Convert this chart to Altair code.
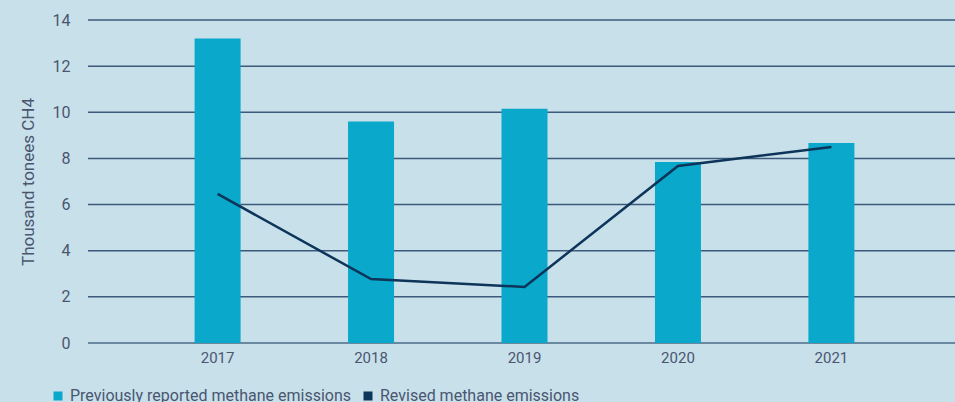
import altair as alt
import pandas as pd

years = ["2017", "2018", "2019", "2020", "2021"]
previous = [13.2, 9.6, 10.15, 7.85, 8.67]
revised = [6.46, 2.77, 2.43, 7.67, 8.5]
series_names = ["Previously reported methane emissions", "Revised methane emissions"]
y_ticks = [0, 2, 4, 6, 8, 10, 12, 14]

df = pd.DataFrame({"year": years, "previous": previous, "revised": revised})

FONT = "Roboto"
LABEL = "#4a5670"

x = alt.X("year:N", title=None,
          scale=alt.Scale(paddingInner=0, paddingOuter=0.325, range=[3, 870]),
          axis=alt.Axis(labelAngle=0, ticks=False, domain=False, labelPadding=7,
                        labelFontSize=15, labelColor=LABEL, labelFont=FONT, grid=False))

color_scale = alt.Scale(domain=series_names, range=["#0aa8cb", "#0d3459"])

bars = alt.Chart(df).mark_bar(width=46, color="#0aa8cb").encode(
    x=x,
    y=alt.Y("previous:Q", title="Thousand tonees CH4",
            scale=alt.Scale(domain=[0, 14], nice=False),
            axis=alt.Axis(values=y_ticks, ticks=False, domain=False, grid=False,
                          labelFontSize=16, labelColor=LABEL, labelFont=FONT, labelPadding=18,
                          titleFontSize=17, titleFontWeight="normal", titleColor=LABEL,
                          titleFont=FONT, titlePadding=15)),
    color=alt.Color("s:N", scale=color_scale,
                    legend=alt.Legend(title=None, orient="none", legendX=-38, legendY=368,
                                      direction="horizontal", symbolType="square",
                                      symbolSize=81, symbolStrokeWidth=0, labelLimit=0,
                                      labelFontSize=16, labelColor=LABEL, labelFont=FONT,
                                      columnPadding=9, labelOffset=4)),
).transform_calculate(s="'" + series_names[0] + "'")

grid = alt.Chart(pd.DataFrame({"v": y_ticks[1:]})).mark_rule(color="#3c5a7c", strokeWidth=1.5).encode(
    y=alt.Y("v:Q", scale=alt.Scale(domain=[0, 14], nice=False)),
    x=alt.value(0), x2=alt.value(867))

zero = alt.Chart(pd.DataFrame({"v": [0]})).mark_rule(color="#6a88a0", strokeWidth=2).encode(
    y=alt.Y("v:Q", scale=alt.Scale(domain=[0, 14], nice=False)),
    x=alt.value(0), x2=alt.value(867))

line = alt.Chart(df).mark_line(strokeWidth=2.5).encode(
    x=x,
    y=alt.Y("revised:Q", scale=alt.Scale(domain=[0, 14], nice=False)),
    color=alt.Color("s:N", scale=color_scale),
).transform_calculate(s="'" + series_names[1] + "'")

chart = alt.layer(grid, zero, bars, line).properties(
    width=867, height=323,
    autosize=alt.AutoSizeParams(type="none"),
    padding={"left": 88, "top": 20, "right": 0, "bottom": 59},
    background="#c8e0ea",
).configure_view(stroke=None)

chart.save("out.html", embed_options={"renderer": "svg", "actions": False})
